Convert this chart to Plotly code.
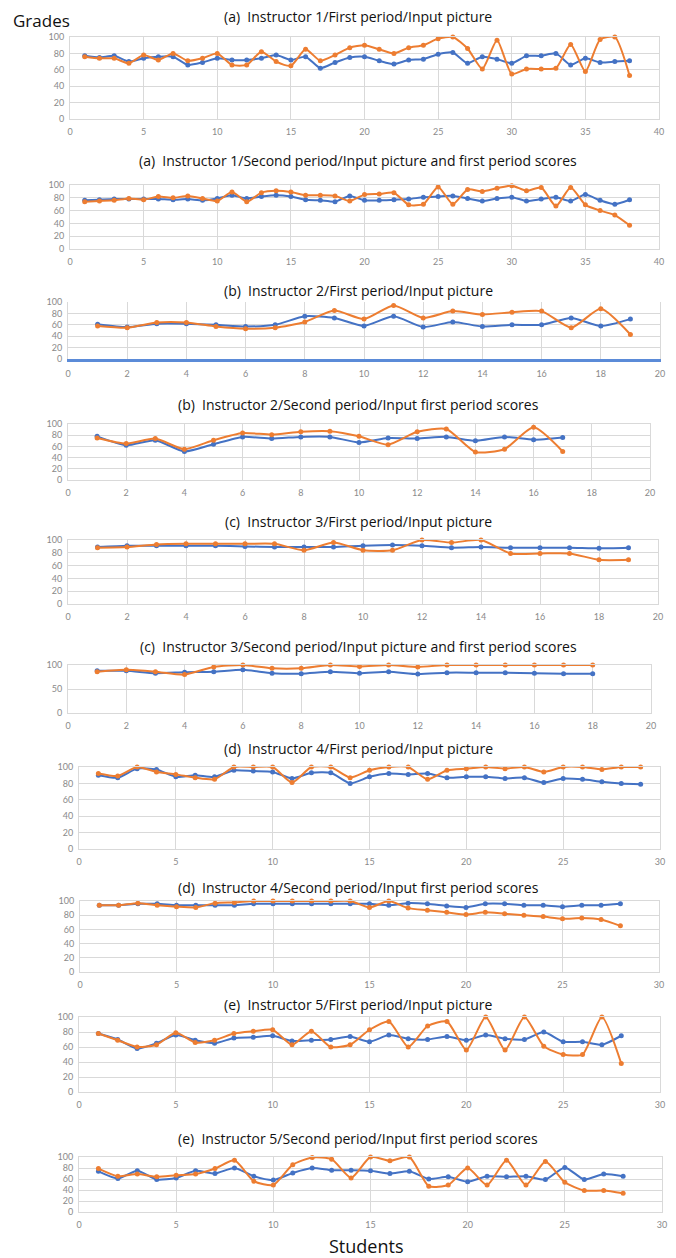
import plotly.graph_objects as go

# ---------------- data ----------------
titles = [
    "(a)  Instructor 1/First period/Input picture",
    "(a)  Instructor 1/Second period/Input picture and first period scores",
    "(b)  Instructor 2/First period/Input picture",
    "(b)  Instructor 2/Second period/Input first period scores",
    "(c)  Instructor 3/First period/Input picture",
    "(c)  Instructor 3/Second period/Input picture and first period scores",
    "(d)  Instructor 4/First period/Input picture",
    "(d)  Instructor 4/Second period/Input first period scores",
    "(e)  Instructor 5/First period/Input picture",
    "(e)  Instructor 5/Second period/Input first period scores",
]

i1_p1_blue = [77, 75, 77, 70, 74, 76, 76, 66, 69, 74, 72, 72, 74, 78, 72, 76, 62, 69, 75, 76,
              71, 67, 72, 73, 79, 81, 68, 76, 73, 68, 77, 77, 80, 66, 74, 69, 70, 71]
i1_p1_orange = [76, 74, 74, 68, 78, 72, 80, 71, 74, 80, 66, 66, 82, 70, 65, 85, 71, 78, 87, 90,
                85, 80, 87, 90, 98, 100, 86, 61, 96, 55, 61, 61, 62, 91, 58, 97, 100, 53]

i1_p2_blue = [76, 77, 78, 78, 78, 78, 77, 78, 76, 79, 84, 79, 82, 84, 82, 77, 76, 74, 83, 76,
              76, 77, 78, 81, 82, 83, 79, 75, 79, 81, 75, 78, 81, 75, 85, 76, 70, 77]
i1_p2_orange = [74, 75, 76, 79, 77, 82, 80, 83, 79, 75, 89, 74, 88, 91, 89, 84, 84, 83, 75, 85,
                86, 88, 69, 70, 97, 70, 93, 90, 95, 99, 91, 96, 67, 96, 69, 60, 53, 37]

i2_p1_blue = [61, 56, 62, 62, 60, 57, 60, 75, 72, 58, 75, 56, 65, 57, 60, 60, 72, 58, 70]
i2_p1_orange = [58, 55, 64, 64, 57, 53, 55, 65, 85, 70, 94, 72, 84, 78, 82, 84, 55, 88, 43]

i2_p2_blue = [78, 62, 71, 51, 64, 77, 74, 77, 77, 67, 75, 74, 77, 70, 77, 72, 76]
i2_p2_orange = [75, 65, 74, 55, 71, 84, 81, 86, 87, 78, 63, 86, 91, 50, 55, 94, 51]

i3_p1_blue = [89, 91, 91, 91, 91, 90, 89, 89, 89, 91, 92, 91, 88, 89, 88, 88, 88, 87, 88]
i3_p1_orange = [88, 89, 93, 94, 94, 94, 94, 84, 96, 84, 84, 100, 96, 100, 79, 79, 79, 69, 69]

i3_p2_blue = [88, 88, 83, 85, 86, 90, 83, 82, 86, 83, 86, 81, 84, 84, 84, 83, 82, 82]
i3_p2_orange = [86, 90, 86, 80, 96, 100, 93, 93, 100, 97, 100, 96, 100, 100, 100, 100, 100, 100]

i4_p1_blue = [90, 87, 98, 97, 88, 90, 88, 96, 95, 94, 86, 93, 93, 80, 88, 92, 91, 92, 87, 88,
              88, 86, 87, 81, 86, 85, 82, 80, 79]
i4_p1_orange = [92, 89, 100, 94, 91, 87, 85, 100, 100, 100, 81, 100, 100, 87, 96, 100, 100, 85, 96, 98,
                100, 98, 100, 94, 100, 100, 97, 100, 100]

i4_p2_blue = [94, 94, 96, 96, 94, 94, 94, 94, 96, 96, 96, 96, 96, 96, 96, 94, 97, 96, 93, 91,
              96, 96, 94, 94, 92, 94, 94, 96]
i4_p2_orange = [94, 94, 97, 94, 92, 91, 97, 98, 100, 100, 100, 100, 100, 100, 91, 100, 90, 87, 84, 81,
                84, 82, 80, 78, 75, 76, 74, 65]

i5_p1_blue = [78, 70, 58, 65, 76, 69, 65, 72, 73, 75, 68, 69, 70, 74, 67, 76, 71, 70, 74, 69,
              76, 71, 70, 80, 67, 67, 63, 75]
i5_p1_orange = [78, 69, 60, 63, 79, 66, 69, 78, 81, 83, 63, 81, 60, 63, 83, 94, 60, 88, 94, 56,
                100, 56, 100, 61, 50, 50, 100, 38]

i5_p2_blue = [74, 61, 75, 59, 62, 75, 70, 80, 65, 58, 71, 80, 76, 76, 75, 70, 74, 60, 64, 55,
              65, 64, 65, 59, 81, 59, 69, 65]
i5_p2_orange = [79, 65, 69, 64, 67, 69, 79, 94, 56, 49, 86, 99, 96, 62, 100, 93, 100, 47, 49, 80,
                49, 94, 49, 92, 54, 39, 39, 34]

series = [
    (i1_p1_blue, i1_p1_orange), (i1_p2_blue, i1_p2_orange),
    (i2_p1_blue, i2_p1_orange), (i2_p2_blue, i2_p2_orange),
    (i3_p1_blue, i3_p1_orange), (i3_p2_blue, i3_p2_orange),
    (i4_p1_blue, i4_p1_orange), (i4_p2_blue, i4_p2_orange),
    (i5_p1_blue, i5_p1_orange), (i5_p2_blue, i5_p2_orange),
]
x_max = [40, 40, 20, 20, 20, 20, 30, 30, 30, 30]
x_step = [5, 5, 2, 2, 2, 2, 5, 5, 5, 5]
y_step = [20, 20, 20, 20, 20, 50, 20, 20, 20, 20]

# ---------------- layout (page pixel boxes: left, right, top, bottom; title y) ----------------
W, H = 676, 1258
OFF = 8  # page body margin
boxes = [
    (70, 659, 37, 119, 17),
    (70, 659, 185, 249, 160),
    (68, 660, 302, 359, 290),
    (68, 650, 424, 480, 404),
    (68, 658, 540, 604, 521),
    (68, 651, 665, 713, 646),
    (79, 660, 767, 849, 748),
    (80, 659, 901, 972, 887),
    (79, 660, 1017, 1092, 1004),
    (79, 662, 1157, 1212, 1138),
]


def px(v):
    return (v - OFF) / W


def py(v):
    return 1 - (v - OFF) / H


BLUE = "#4472C4"
ORANGE = "#ED7D31"
GRID = "#d9d9d9"
TICK = "#8a8a8a"
TFONT = "Open Sans"
FONT = "Lato"

fig = go.Figure()
layout = {}
annotations = []
for i, ((blue, orange), (l, r, t, b, ty)) in enumerate(zip(series, boxes)):
    k = i + 1
    xs = list(range(1, len(blue) + 1))
    for vals, col in ((blue, BLUE), (orange, ORANGE)):
        fig.add_trace(go.Scatter(
            x=xs, y=vals, xaxis=f"x{k}", yaxis=f"y{k}",
            mode="lines+markers", cliponaxis=False, showlegend=False,
            line=dict(color=col, width=2, shape="spline", smoothing=0.6),
            marker=dict(color=col, size=5),
        ))
    xa = dict(domain=[px(l), px(r)], anchor=f"y{k}", range=[0, x_max[i]], automargin=False,
              tick0=0, dtick=x_step[i], showgrid=True, gridcolor=GRID, gridwidth=1,
              zeroline=False, showline=True, linecolor=GRID, mirror=True,
              ticks="outside", ticklen=4, tickcolor="rgba(0,0,0,0)",
              tickfont=dict(family=FONT, size=9, color=TICK))
    if k == 3:
        xa.update(linecolor="#5b8bd8", linewidth=2.5, mirror=False)
    ya = dict(domain=[py(b), py(t)], anchor=f"x{k}", range=[0, 100], automargin=False,
              tick0=0, dtick=y_step[i], showgrid=True, gridcolor=GRID, gridwidth=1,
              zeroline=False, showline=True, linecolor=GRID, mirror=True,
              ticks="outside", ticklen=3, tickcolor="rgba(0,0,0,0)",
              tickfont=dict(family=FONT, size=9, color=TICK))
    layout[f"xaxis{k}"] = xa
    layout[f"yaxis{k}"] = ya
    annotations.append(dict(text=titles[i], x=px(358), y=py(ty), xref="paper", yref="paper",
                            xanchor="center", yanchor="middle", showarrow=False,
                            font=dict(family=TFONT, size=14, color="#111111")))

annotations.append(dict(text="Grades", x=px(12), y=py(8), xref="paper", yref="paper",
                        xanchor="left", yanchor="top", showarrow=False, borderpad=0,
                        font=dict(family=TFONT, size=17, color="#111111")))
annotations.append(dict(text="Students", x=px(366), y=py(1246), xref="paper", yref="paper",
                        xanchor="center", yanchor="middle", showarrow=False,
                        font=dict(family=TFONT, size=18, color="#111111")))

fig.update_layout(width=W, height=H, margin=dict(l=0, r=0, t=0, b=0, autoexpand=False),
                  paper_bgcolor="white", plot_bgcolor="white",
                  annotations=annotations, **layout)

fig.write_html("out.html")
